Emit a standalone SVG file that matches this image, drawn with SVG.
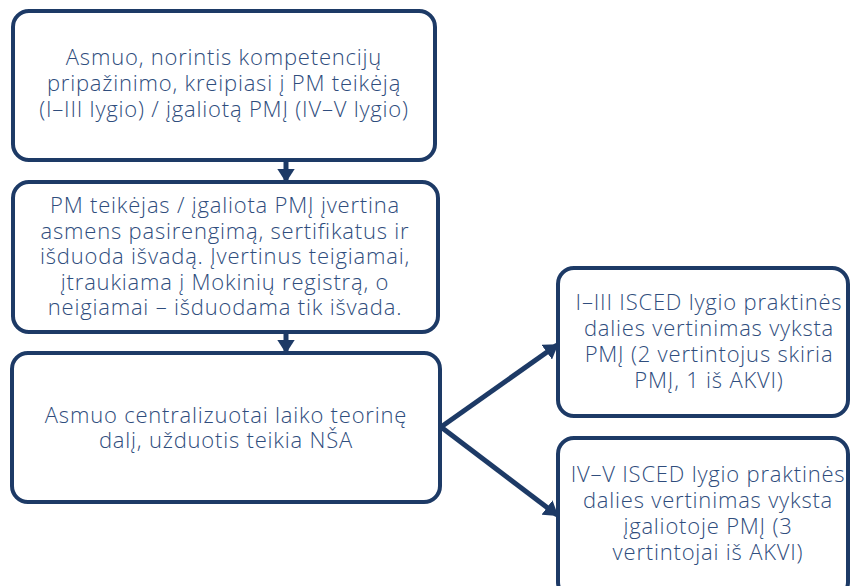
<svg xmlns="http://www.w3.org/2000/svg" width="851" height="586" viewBox="0 0 851 586">
<style>
.box{fill:#fff;stroke:#1d3a66;stroke-width:4}
.t{font-family:"Open Sans","Noto Sans",sans-serif;font-size:22px;letter-spacing:0.8px;fill:#2f4d7d;text-anchor:middle;font-weight:300}
.c{stroke:#1d3a66;stroke-width:5;fill:none}
</style>
<defs>
<marker id="ah" markerWidth="2.8" markerHeight="3.6" refX="2.5" refY="1.8" orient="auto" markerUnits="strokeWidth">
<path d="M0,0 L2.8,1.8 L0,3.6 Z" fill="#1d3a66"/>
</marker>
</defs>
<g id="connectors">
<line class="c" x1="286" y1="160" x2="286" y2="181" marker-end="url(#ah)"/>
<line class="c" x1="286" y1="332" x2="286" y2="352" marker-end="url(#ah)"/>
<line class="c" x1="441" y1="427" x2="557" y2="345" marker-end="url(#ah)"/>
<line class="c" x1="441" y1="427" x2="557" y2="515" marker-end="url(#ah)"/>
</g>
<g id="n1">
<rect class="box" x="13" y="11" width="422" height="149" rx="16"/>
<text class="t"><tspan x="224" y="65">Asmuo, norintis kompetencijų</tspan><tspan x="224" y="91">pripažinimo, kreipiasi į PM teikėją</tspan><tspan x="224" y="117">(I–III lygio) / įgaliotą PMĮ (IV–V lygio)</tspan></text>
</g>
<g id="n2">
<rect class="box" x="13" y="182" width="425" height="150" rx="16"/>
<text class="t"><tspan x="225" y="213">PM teikėjas / įgaliota PMĮ įvertina</tspan><tspan x="225" y="238.5">asmens pasirengimą, sertifikatus ir</tspan><tspan x="225" y="264">išduoda išvadą. Įvertinus teigiamai,</tspan><tspan x="225" y="289.5">įtraukiama į Mokinių registrą, o</tspan><tspan x="225" y="315">neigiamai – išduodama tik išvada.</tspan></text>
</g>
<g id="n3">
<rect class="box" x="12" y="353" width="428" height="149" rx="16"/>
<text class="t"><tspan x="226" y="423">Asmuo centralizuotai laiko teorinę</tspan><tspan x="226" y="448">dalį, užduotis teikia NŠA</tspan></text>
</g>
<g id="n4">
<rect class="box" x="558" y="268" width="290" height="148" rx="16"/>
<text class="t"><tspan x="709" y="310">I–III ISCED lygio praktinės</tspan><tspan x="709" y="336">dalies vertinimas vyksta</tspan><tspan x="709" y="362">PMĮ (2 vertintojus skiria</tspan><tspan x="709" y="388">PMĮ, 1 iš AKVI)</tspan></text>
</g>
<g id="n5">
<rect class="box" x="558" y="438" width="290" height="160" rx="16"/>
<text class="t"><tspan x="708" y="482">IV–V ISCED lygio praktinės</tspan><tspan x="708" y="508">dalies vertinimas vyksta</tspan><tspan x="708" y="534">įgaliotoje PMĮ (3</tspan><tspan x="708" y="560">vertintojai iš AKVI)</tspan></text>
</g>
</svg>
